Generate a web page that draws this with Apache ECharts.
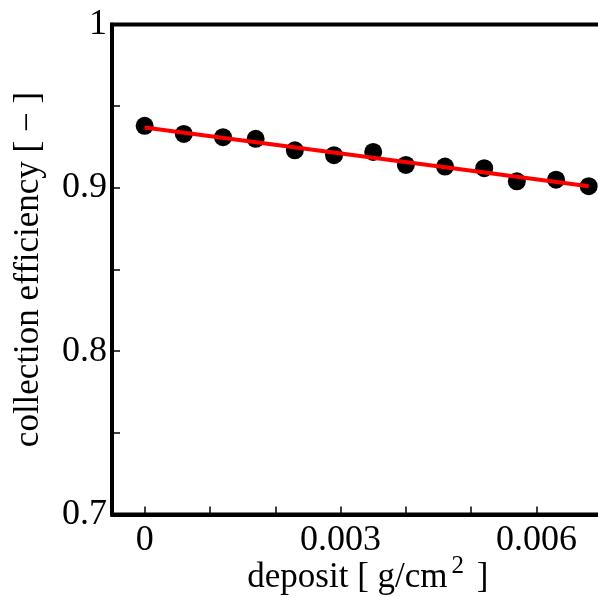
<!DOCTYPE html>
<html>
<head>
<meta charset="utf-8">
<script src="https://cdn.jsdelivr.net/npm/echarts@6/dist/echarts.min.js"></script>
<style>html,body{margin:0;padding:0;background:#fff}#c{width:598px;height:597px}</style>
</head>
<body>
<div id="c"></div>
<script>
const depositX = [0, 0.0006, 0.0012, 0.0017, 0.0023, 0.0029, 0.0035, 0.0040, 0.0046, 0.0052, 0.0057, 0.0063, 0.0068];
const efficiencyY = [0.938, 0.933, 0.931, 0.930, 0.923, 0.920, 0.922, 0.914, 0.913, 0.912, 0.904, 0.905, 0.901];
const fitX = [0, 0.0068];
const fitY = [0.937, 0.901];
const xTicks = [0, 0.001, 0.002, 0.003, 0.004, 0.005, 0.006];
const xTickLabels = [0, 0.003, 0.006];
const yTicks = [0.7, 0.75, 0.8, 0.85, 0.9, 0.95, 1];
const yTickLabels = [0.7, 0.8, 0.9, 1];

const chart = echarts.init(document.getElementById('c'));
const font = 'Liberation Serif';
chart.setOption({
  animation: false,
  backgroundColor: '#fff',
  grid: { left: 112, top: 24.5, bottom: 82.5, right: -3.75, show: true, borderColor: '#000', borderWidth: 4,
    containLabel: false, outerBoundsMode: 'none' },
  xAxis: {
    type: 'value', min: -0.0005, max: 0.007,
    splitLine: { show: false },
    axisLine: { onZero: false, lineStyle: { color: '#000', width: 4 } },
    axisTick: { inside: true, length: 8, lineStyle: { color: '#000', width: 1.5 }, customValues: xTicks },
    axisLabel: { customValues: xTickLabels, color: '#000', fontFamily: font, fontSize: 36, margin: 8,
      formatter: v => String(+v.toFixed(4)) },
    name: 'deposit [ g/cm{sup|2} ]', nameLocation: 'middle', nameGap: 39, nameMoveOverlap: false,
    nameTextStyle: { color: '#000', fontFamily: font, fontSize: 35, padding: [0, 0, 0, 22],
      rich: { sup: { fontFamily: font, fontSize: 25, verticalAlign: 'top', padding: [0, 4, 24, 4], color: '#000' } } }
  },
  yAxis: {
    type: 'value', min: 0.7, max: 1,
    splitLine: { show: false },
    axisLine: { onZero: false, lineStyle: { color: '#000', width: 4 } },
    axisTick: { inside: true, length: 8, lineStyle: { color: '#000', width: 1.5 }, customValues: yTicks },
    axisLabel: { customValues: yTickLabels, color: '#000', fontFamily: font, fontSize: 36, margin: 5,
      formatter: v => String(+v.toFixed(2)) },
    name: 'collection efficiency [ \u2212 ]', nameLocation: 'middle', nameGap: 66, nameRotate: 90, nameMoveOverlap: false,
    nameTextStyle: { color: '#000', fontFamily: font, fontSize: 35 }
  },
  series: [
    { type: 'scatter', data: depositX.map((x, i) => [x, efficiencyY[i]]), symbol: 'circle', symbolSize: 18,
      itemStyle: { color: '#000', opacity: 1 }, z: 2 },
    { type: 'line', data: fitX.map((x, i) => [x, fitY[i]]), symbol: 'none', lineStyle: { color: '#ff0000', width: 4 }, z: 3 }
  ]
});
</script>
</body>
</html>
